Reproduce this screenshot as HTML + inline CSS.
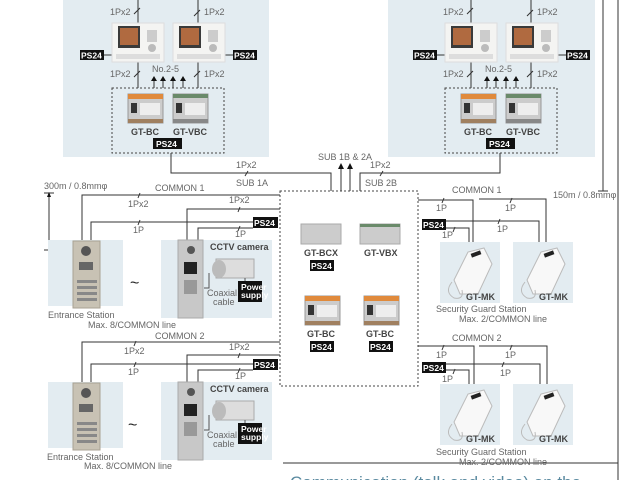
<!DOCTYPE html>
<html><head><meta charset="utf-8"><style>
html,body{margin:0;padding:0;background:#fff;width:640px;height:480px;overflow:hidden}
svg{display:block}
text{font-family:"Liberation Sans",sans-serif}
.t{font-size:9px;fill:#666}
.b{font-size:9px;font-weight:bold;fill:#444}
.ps{font-size:8.5px;font-weight:bold;fill:#fff}
.w{stroke:#333;stroke-width:1;fill:none}
.d{stroke:#444;stroke-width:1;fill:none;stroke-dasharray:2,2}
</style></head><body>
<svg width="640" height="480" viewBox="0 0 640 480" xmlns="http://www.w3.org/2000/svg">
<defs>
<g id="mon">
 <rect x="0" y="0" width="52" height="39" fill="#f4f4f2" stroke="#ddd"/>
 <rect x="6" y="3" width="22" height="22" fill="#3a3a3a"/>
 <rect x="8" y="5" width="18" height="17" fill="#b06a40"/>
 <rect x="35" y="7" width="10" height="12" fill="#ccc"/>
 <circle cx="40" cy="25" r="4" fill="#bbb"/>
 <rect x="4" y="31" width="44" height="5" fill="#ddd"/>
</g>
<g id="bc">
 <rect x="0" y="0" width="35" height="29" fill="#ccc" stroke="#999"/>
 <rect x="0" y="0" width="35" height="5" fill="#e08a3c"/>
 <rect x="0" y="25" width="35" height="4" fill="#a08060"/>
 <rect x="3" y="9" width="6" height="10" fill="#333"/>
 <rect x="12" y="9" width="20" height="12" fill="#eee"/>
</g>
<g id="vbc">
 <rect x="0" y="0" width="35" height="29" fill="#ccc" stroke="#999"/>
 <rect x="0" y="0" width="35" height="4" fill="#6a8a6a"/>
 <rect x="0" y="25" width="35" height="4" fill="#888"/>
 <rect x="3" y="9" width="6" height="10" fill="#333"/>
 <rect x="12" y="9" width="20" height="12" fill="#eee"/>
</g>
<g id="ph">
 <rect x="0" y="0" width="60" height="61" fill="#e3ecf1"/>
 <path d="M14 38 L28 10 L44 6 L52 22 L38 52 L20 52 Z" fill="#f8f8f8" stroke="#bbb"/>
 <rect x="31" y="10" width="10" height="4" fill="#222" transform="rotate(-20 36 12)"/>
 <path d="M12 40 Q4 50 14 56 Q24 58 22 48" fill="none" stroke="#bbb"/>
</g>
<g id="es">
 <rect x="0" y="0" width="75" height="66" fill="#e3ecf1"/>
 <rect x="25" y="1" width="27" height="67" fill="#c8c2b4" stroke="#a9a293"/>
 <circle cx="38" cy="11" r="5" fill="#555"/>
 <rect x="31" y="22" width="14" height="8" fill="#666"/>
 <rect x="29" y="40" width="20" height="3" fill="#888"/>
 <rect x="29" y="46" width="20" height="3" fill="#888"/>
 <rect x="29" y="52" width="20" height="3" fill="#888"/>
 <rect x="29" y="58" width="20" height="3" fill="#888"/>
</g>
<g id="cc">
 <rect x="0" y="0" width="111" height="78" fill="#e3ecf1"/>
 <rect x="17" y="0" width="25" height="78" fill="#c8c8c8" stroke="#aaa"/>
 <circle cx="30" cy="10" r="4" fill="#555"/>
 <rect x="23" y="22" width="13" height="12" fill="#222"/>
 <rect x="23" y="40" width="13" height="14" fill="#999"/>
 <rect x="55" y="19" width="38" height="19" fill="#ddd" stroke="#aaa"/>
 <ellipse cx="58" cy="29" rx="7" ry="9" fill="#bbb"/>
 <rect x="77" y="41" width="24" height="21" fill="#111"/>
 <path d="M48 33 V48 H43 M84 38 V41" stroke="#555" fill="none"/>
</g>
</defs>

<rect x="63" y="0" width="206" height="157" fill="#e3ecf1"/>
<rect x="388" y="0" width="207" height="157" fill="#e3ecf1"/>

<g>
<path class="w" d="M138 0V23M198 0V23M138 62V88M198 62V88M104 55H112M225 55H233"/>
<path class="w" d="M134 14l6-6M194 16l6-6M134 77l6-6M194 77l6-6"/>
<text class="t" x="110" y="15">1Px2</text><text class="t" x="204" y="15">1Px2</text>
<text class="t" x="110" y="77">1Px2</text><text class="t" x="204" y="77">1Px2</text>
<text class="t" x="152" y="72">No.2-5</text>
<use href="#mon" x="112" y="23"/><use href="#mon" x="173" y="23"/>
<rect x="80" y="50" width="24" height="10" fill="#111"/><text class="ps" x="81" y="58.5">PS24</text>
<rect x="233" y="50" width="24" height="10" fill="#111"/><text class="ps" x="234" y="58.5">PS24</text>
<g fill="#111"><path d="M154 76l-3 5h6z M163 76l-3 5h6z M173 76l-3 5h6z M183 76l-3 5h6z"/></g>
<path class="w" d="M154 81V88M163 81V88M173 81V88M183 81V88"/>
<rect class="d" x="112" y="88" width="112" height="65"/>
<use href="#bc" x="128" y="94"/><use href="#vbc" x="173" y="94"/>
<text class="b" x="131" y="135">GT-BC</text><text class="b" x="173" y="135">GT-VBC</text>
<rect x="153" y="138" width="29" height="11" fill="#111"/><text class="ps" x="156" y="147">PS24</text>
</g>

<g transform="translate(333,0)">
<path class="w" d="M138 0V23M198 0V23M138 62V88M198 62V88M104 55H112M225 55H233"/>
<path class="w" d="M134 14l6-6M194 16l6-6M134 77l6-6M194 77l6-6"/>
<text class="t" x="110" y="15">1Px2</text><text class="t" x="204" y="15">1Px2</text>
<text class="t" x="110" y="77">1Px2</text><text class="t" x="204" y="77">1Px2</text>
<text class="t" x="152" y="72">No.2-5</text>
<use href="#mon" x="112" y="23"/><use href="#mon" x="173" y="23"/>
<rect x="80" y="50" width="24" height="10" fill="#111"/><text class="ps" x="81" y="58.5">PS24</text>
<rect x="233" y="50" width="24" height="10" fill="#111"/><text class="ps" x="234" y="58.5">PS24</text>
<g fill="#111"><path d="M154 76l-3 5h6z M163 76l-3 5h6z M173 76l-3 5h6z M183 76l-3 5h6z"/></g>
<path class="w" d="M154 81V88M163 81V88M173 81V88M183 81V88"/>
<rect class="d" x="112" y="88" width="112" height="65"/>
<use href="#bc" x="128" y="94"/><use href="#vbc" x="173" y="94"/>
<text class="b" x="131" y="135">GT-BC</text><text class="b" x="173" y="135">GT-VBC</text>
<rect x="153" y="138" width="29" height="11" fill="#111"/><text class="ps" x="156" y="147">PS24</text>
</g>

<path class="w" d="M603 0V191M598 191H608M618 0V480M283 463H618V480"/>
<text class="t" x="553" y="198">150m / 0.8mmφ</text>

<path class="w" d="M171 153V173H331V191M500 153V173H360V191M341 168V191M350 168V191"/>
<path class="w" d="M245 176l3-5M380 176l3-5"/>
<path fill="#111" d="M341 163l-3 6h6zM350 163l-3 6h6z"/>
<text class="t" x="236" y="168">1Px2</text><text class="t" x="236" y="186">SUB 1A</text>
<text class="t" x="370" y="168">1Px2</text><text class="t" x="365" y="186">SUB 2B</text>
<text class="t" x="318" y="160">SUB 1B &amp; 2A</text>

<rect class="d" x="280" y="191" width="138" height="195"/>
<rect x="301" y="224" width="40" height="20" fill="#ccc" stroke="#aaa"/>
<rect x="360" y="224" width="40" height="20" fill="#ccc" stroke="#aaa"/><rect x="360" y="224" width="40" height="3" fill="#6a8a6a"/>
<text class="b" x="304" y="256">GT-BCX</text><text class="b" x="364" y="256">GT-VBX</text>
<rect x="310" y="260" width="24" height="11" fill="#111"/><text class="ps" x="311" y="269">PS24</text>
<use href="#bc" x="305" y="296"/><use href="#bc" x="364" y="296"/>
<text class="b" x="307" y="337">GT-BC</text><text class="b" x="366" y="337">GT-BC</text>
<rect x="310" y="341" width="24" height="11" fill="#111"/><text class="ps" x="311" y="350">PS24</text>
<rect x="369" y="341" width="24" height="11" fill="#111"/><text class="ps" x="370" y="350">PS24</text>

<text class="t" x="44" y="189">300m / 0.8mmφ</text>
<path class="w" d="M49 193V250M44 193H54M44 250H54"/>
<path fill="#111" d="M49 192l-2 5h4z"/>
<text class="t" x="155" y="191">COMMON 1</text>
<path class="w" d="M280 195H82V243M280 209H187V243M253 222H91V243M253 228H198V243"/>
<path class="w" d="M138 198l2-5M238 212l2-5M138 225l2-5M238 231l2-5"/>
<text class="t" x="128" y="207">1Px2</text><text class="t" x="229" y="203">1Px2</text>
<text class="t" x="133" y="233">1P</text><text class="t" x="235" y="237">1P</text>
<rect x="253" y="217" width="25" height="11" fill="#111"/><text class="ps" x="254" y="226">PS24</text>
<use href="#es" x="48" y="240"/>
<text x="130" y="288" font-size="16" fill="#222">~</text>
<use href="#cc" x="161" y="240"/>
<text class="b" x="210" y="250">CCTV camera</text>
<text class="ps" x="241" y="290" font-size="7">Power</text><text class="ps" x="241" y="298" font-size="7">supply</text>
<text class="t" x="207" y="296">Coaxial</text><text class="t" x="213" y="305">cable</text>
<text class="t" x="48" y="318">Entrance Station</text>
<text class="t" x="88" y="328">Max. 8/COMMON line</text>

<text class="t" x="155" y="339">COMMON 2</text>
<path class="w" d="M280 342H82V384M280 355H187V384M253 364H91V384M253 370H198V384"/>
<path class="w" d="M134 346l2-5M238 358l2-5M134 367l2-5M238 373l2-5"/>
<text class="t" x="124" y="354">1Px2</text><text class="t" x="229" y="350">1Px2</text>
<text class="t" x="128" y="375">1P</text><text class="t" x="235" y="379">1P</text>
<rect x="253" y="359" width="25" height="11" fill="#111"/><text class="ps" x="254" y="368">PS24</text>
<use href="#es" x="48" y="382"/>
<text x="128" y="430" font-size="16" fill="#222">~</text>
<use href="#cc" x="161" y="382"/>
<text class="b" x="210" y="392">CCTV camera</text>
<text class="ps" x="241" y="432" font-size="7">Power</text><text class="ps" x="241" y="440" font-size="7">supply</text>
<text class="t" x="207" y="438">Coaxial</text><text class="t" x="213" y="447">cable</text>
<text class="t" x="47" y="460">Entrance Station</text>
<text class="t" x="84" y="469">Max. 8/COMMON line</text>

<text class="t" x="452" y="193">COMMON 1</text>
<path class="w" d="M418 200H473V250M479 199H546V250M446 221H539V250M446 228H469V250"/>
<path class="w" d="M442 203l2-5M510 203l2-5M498 224l2-5M453 232l2-5"/>
<text class="t" x="436" y="211">1P</text><text class="t" x="505" y="211">1P</text>
<text class="t" x="497" y="232">1P</text><text class="t" x="442" y="238">1P</text>
<rect x="422" y="219" width="24" height="11" fill="#111"/><text class="ps" x="423" y="228">PS24</text>
<use href="#ph" x="440" y="242"/><use href="#ph" x="513" y="242"/>
<text class="b" x="466" y="300">GT-MK</text><text class="b" x="539" y="300">GT-MK</text>
<text class="t" x="436" y="312">Security Guard Station</text>
<text class="t" x="459" y="322">Max. 2/COMMON line</text>

<text class="t" x="452" y="341">COMMON 2</text>
<path class="w" d="M418 346H474V392M479 346H547V392M446 364H540V392M446 370H469V392"/>
<path class="w" d="M442 350l2-5M510 350l2-5M502 367l2-5M453 374l2-5"/>
<text class="t" x="436" y="358">1P</text><text class="t" x="505" y="358">1P</text>
<text class="t" x="500" y="376">1P</text><text class="t" x="442" y="382">1P</text>
<rect x="422" y="362" width="24" height="11" fill="#111"/><text class="ps" x="423" y="371">PS24</text>
<use href="#ph" x="440" y="384"/><use href="#ph" x="513" y="384"/>
<text class="b" x="466" y="442">GT-MK</text><text class="b" x="539" y="442">GT-MK</text>
<text class="t" x="436" y="455">Security Guard Station</text>
<text class="t" x="459" y="465">Max. 2/COMMON line</text>

<text x="290" y="488" font-size="17" fill="#5a8aa0">Communication (talk and video) on the</text>
</svg>
</body></html>
